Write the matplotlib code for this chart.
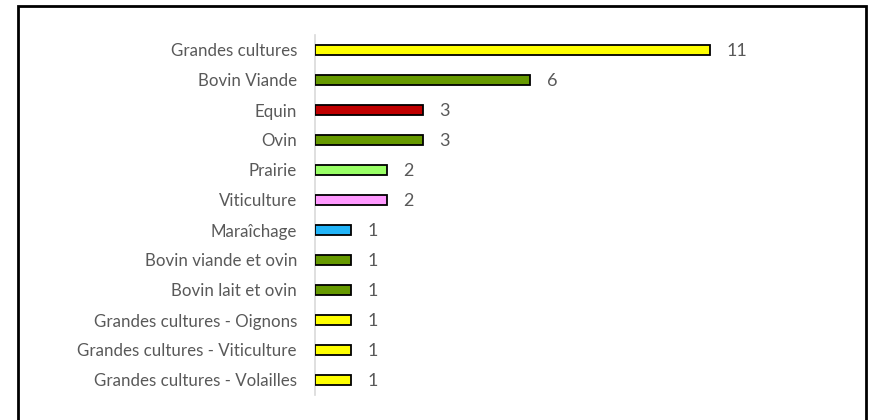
import matplotlib
matplotlib.use("Agg")
import matplotlib.pyplot as plt
from matplotlib.patches import Rectangle

categories = [
    "Grandes cultures",
    "Bovin Viande",
    "Equin",
    "Ovin",
    "Prairie",
    "Viticulture",
    "Maraîchage",
    "Bovin viande et ovin",
    "Bovin lait et ovin",
    "Grandes cultures - Oignons",
    "Grandes cultures - Viticulture",
    "Grandes cultures - Volailles",
]
counts = [11, 6, 3, 3, 2, 2, 1, 1, 1, 1, 1, 1]
colors = [
    "#FFFF00", "#669900", "#C00000", "#669900", "#99FF66", "#FF99FF",
    "#22B4F8", "#669900", "#669900", "#FFFF00", "#FFFF00", "#FFFF00",
]

W, H = 871, 420
fig = plt.figure(figsize=(W / 100, H / 100), dpi=100)
fig.patch.set_facecolor("white")

# outer chart frame
fig.patches.append(Rectangle((17.5 / W, -0.05), (865.5 - 17.5) / W, (H - 6.5) / H + 0.05,
                             transform=fig.transFigure, fill=False,
                             edgecolor="#000000", linewidth=2.0))

px_per_unit = 35.9
xmax = 12.0
left, top, bottom = 315, 35, 395
ax = fig.add_axes([left / W, (H - bottom) / H, xmax * px_per_unit / W, (bottom - top) / H])

pos = list(range(len(categories)))
ax.barh(pos, counts, height=0.34, color=colors, edgecolor="#000000", linewidth=1.3, zorder=3)
ax.set_ylim(len(categories) - 0.5, -0.5)
ax.set_xlim(0, xmax)

font = "Lato"
ax.set_yticks(pos)
ax.set_yticklabels(categories, fontsize=12.2, color="#595959", family=font)
ax.tick_params(axis="y", length=0, pad=13)
ax.set_xticks([])
for s in ["top", "right", "bottom"]:
    ax.spines[s].set_visible(False)
ax.spines["left"].set_color("#D9D9D9")
ax.spines["left"].set_linewidth(1.2)

for p, v in zip(pos, counts):
    ax.text(v + 0.45, p, str(v), va="center_baseline", ha="left", fontsize=13,
            color="#595959", family=font)

fig.savefig("out.png", dpi=100, facecolor="white")
